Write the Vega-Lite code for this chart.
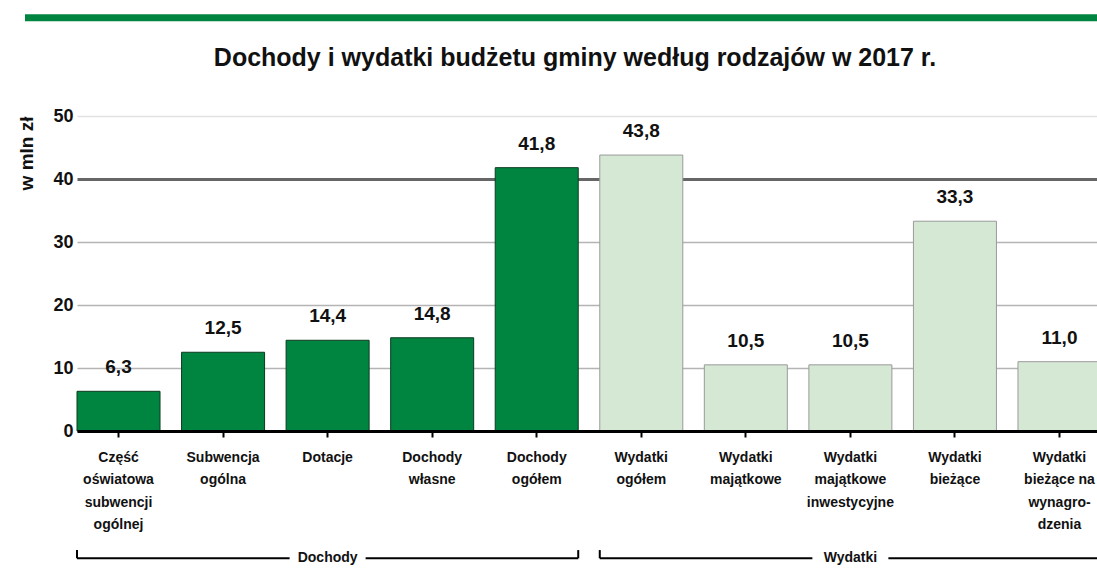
{
  "$schema": "https://vega.github.io/schema/vega-lite/v6.json",
  "autosize": {"type": "none"},
  "padding": {"left": 77, "top": 116, "right": 0, "bottom": 138},
  "width": 1024,
  "height": 315,
  "background": "white",
  "config": {
    "view": {"stroke": null},
    "locale": {"number": {"decimal": ",", "thousands": " ", "grouping": [3], "currency": ["", " zł"]}},
    "font": "Liberation Sans"
  },
  "title": {
    "text": "Dochody i wydatki budżetu gminy według rodzajów w 2017 r.",
    "font": "Liberation Sans",
    "fontSize": 25,
    "fontWeight": "bold",
    "color": "#111111",
    "anchor": "middle",
    "dx": -14,
    "offset": -57
  },
  "datasets": {
    "bars": [
      {"cat": "Część|oświatowa|subwencji|ogólnej", "value": 6.3, "group": "Dochody"},
      {"cat": "Subwencja|ogólna", "value": 12.5, "group": "Dochody"},
      {"cat": "Dotacje", "value": 14.4, "group": "Dochody"},
      {"cat": "Dochody|własne", "value": 14.8, "group": "Dochody"},
      {"cat": "Dochody|ogółem", "value": 41.8, "group": "Dochody"},
      {"cat": "Wydatki|ogółem", "value": 43.8, "group": "Wydatki"},
      {"cat": "Wydatki|majątkowe", "value": 10.5, "group": "Wydatki"},
      {"cat": "Wydatki|majątkowe|inwestycyjne", "value": 10.5, "group": "Wydatki"},
      {"cat": "Wydatki|bieżące", "value": 33.3, "group": "Wydatki"},
      {"cat": "Wydatki|bieżące na|wynagro-|dzenia", "value": 11.0, "group": "Wydatki"}
    ],
    "groups": [
      {"group": "Dochody", "start": "Część|oświatowa|subwencji|ogólnej", "mid": "Dotacje", "end": "Dochody|ogółem"},
      {"group": "Wydatki", "start": "Wydatki|ogółem", "mid": "Wydatki|majątkowe|inwestycyjne", "end": "Wydatki|bieżące na|wynagro-|dzenia"}
    ],
    "topline": [
      {"from": "Część|oświatowa|subwencji|ogólnej", "to": "Wydatki|bieżące na|wynagro-|dzenia"}
    ]
  },
  "layer": [
    {
      "data": {"name": "bars"},
      "mark": {"type": "bar", "strokeWidth": 1},
      "encoding": {
        "x": {
          "field": "cat",
          "type": "nominal",
          "sort": null,
          "scale": {
            "domain": [
              "Część|oświatowa|subwencji|ogólnej", "Subwencja|ogólna", "Dotacje", "Dochody|własne", "Dochody|ogółem",
              "Wydatki|ogółem", "Wydatki|majątkowe", "Wydatki|majątkowe|inwestycyjne", "Wydatki|bieżące", "Wydatki|bieżące na|wynagro-|dzenia"
            ],
            "paddingInner": 0.206,
            "paddingOuter": 0
          },
          "axis": {
            "title": null,
            "labelExpr": "split(datum.label, '|')",
            "labelAngle": 0,
            "labelFont": "Liberation Sans",
            "labelFontSize": 14,
            "labelFontWeight": "bold",
            "labelColor": "#111111",
            "labelLineHeight": 22.5,
            "labelBaseline": "top",
            "labelPadding": 13,
            "labelLimit": 200,
            "domainColor": "#000000",
            "domainWidth": 3,
            "tickColor": "#000000",
            "tickWidth": 2,
            "tickSize": 6,
            "zindex": 1
          }
        },
        "y": {
          "field": "value",
          "type": "quantitative",
          "scale": {"domain": [0, 50], "nice": false},
          "axis": {
            "title": "w mln zł",
            "titleFont": "Liberation Sans",
            "titleFontSize": 19,
            "titleFontWeight": "bold",
            "titleColor": "#111111",
            "titleAnchor": "end",
            "titlePadding": 16,
            "values": [0, 10, 20, 30, 40, 50],
            "domain": false,
            "ticks": false,
            "labelFont": "Liberation Sans",
            "labelFontSize": 18,
            "labelFontWeight": "bold",
            "labelColor": "#111111",
            "labelPadding": 4,
            "grid": true,
            "gridColor": {"condition": [{"test": "datum.value === 40", "value": "#666666"}, {"test": "datum.value === 50", "value": "#e2e2e2"}], "value": "#b4b4b4"},
            "gridWidth": {"condition": {"test": "datum.value === 40", "value": 3}, "value": 1.5}
          }
        },
        "color": {
          "field": "group",
          "type": "nominal",
          "scale": {"domain": ["Dochody", "Wydatki"], "range": ["#008540", "#d5e8d4"]},
          "legend": null
        },
        "stroke": {
          "field": "group",
          "type": "nominal",
          "scale": {"domain": ["Dochody", "Wydatki"], "range": ["#0d3b20", "#9a9a9a"]},
          "legend": null
        }
      }
    },
    {
      "data": {"name": "bars"},
      "mark": {"type": "text", "font": "Liberation Sans", "fontSize": 19, "fontWeight": "bold", "color": "#111111", "baseline": "middle", "dy": -24},
      "encoding": {
        "x": {"field": "cat", "type": "nominal"},
        "y": {"field": "value", "type": "quantitative"},
        "text": {"field": "value", "type": "quantitative", "format": ".1f"}
      }
    },
    {
      "data": {"name": "groups"},
      "mark": {"type": "rule", "color": "#000000", "strokeWidth": 2, "x2Offset": -38},
      "encoding": {
        "x": {"field": "start", "type": "nominal", "bandPosition": 0},
        "x2": {"field": "mid", "bandPosition": 0.5},
        "y": {"datum": -20.2}
      }
    },
    {
      "data": {"name": "groups"},
      "mark": {"type": "rule", "color": "#000000", "strokeWidth": 2, "xOffset": 38},
      "encoding": {
        "x": {"field": "mid", "type": "nominal", "bandPosition": 0.5},
        "x2": {"field": "end", "bandPosition": 1},
        "y": {"datum": -20.2}
      }
    },
    {
      "data": {"name": "groups"},
      "mark": {"type": "rule", "color": "#000000", "strokeWidth": 2},
      "encoding": {
        "x": {"field": "start", "type": "nominal", "bandPosition": 0},
        "y": {"datum": -20.2},
        "y2": {"datum": -18.9}
      }
    },
    {
      "data": {"name": "groups"},
      "mark": {"type": "rule", "color": "#000000", "strokeWidth": 2},
      "encoding": {
        "x": {"field": "end", "type": "nominal", "bandPosition": 1},
        "y": {"datum": -20.2},
        "y2": {"datum": -18.9}
      }
    },
    {
      "data": {"name": "groups"},
      "mark": {"type": "text", "font": "Liberation Sans", "fontSize": 14, "fontWeight": "bold", "color": "#111111", "baseline": "middle", "align": "center"},
      "encoding": {
        "x": {"field": "mid", "type": "nominal"},
        "y": {"datum": -20.2},
        "text": {"field": "group"}
      }
    },
    {
      "data": {"name": "topline"},
      "mark": {"type": "rule", "color": "#008540", "strokeWidth": 7, "xOffset": -52, "x2Offset": 20},
      "encoding": {
        "x": {"field": "from", "type": "nominal", "bandPosition": 0},
        "x2": {"field": "to", "bandPosition": 1},
        "y": {"datum": 65.6}
      }
    }
  ]
}
